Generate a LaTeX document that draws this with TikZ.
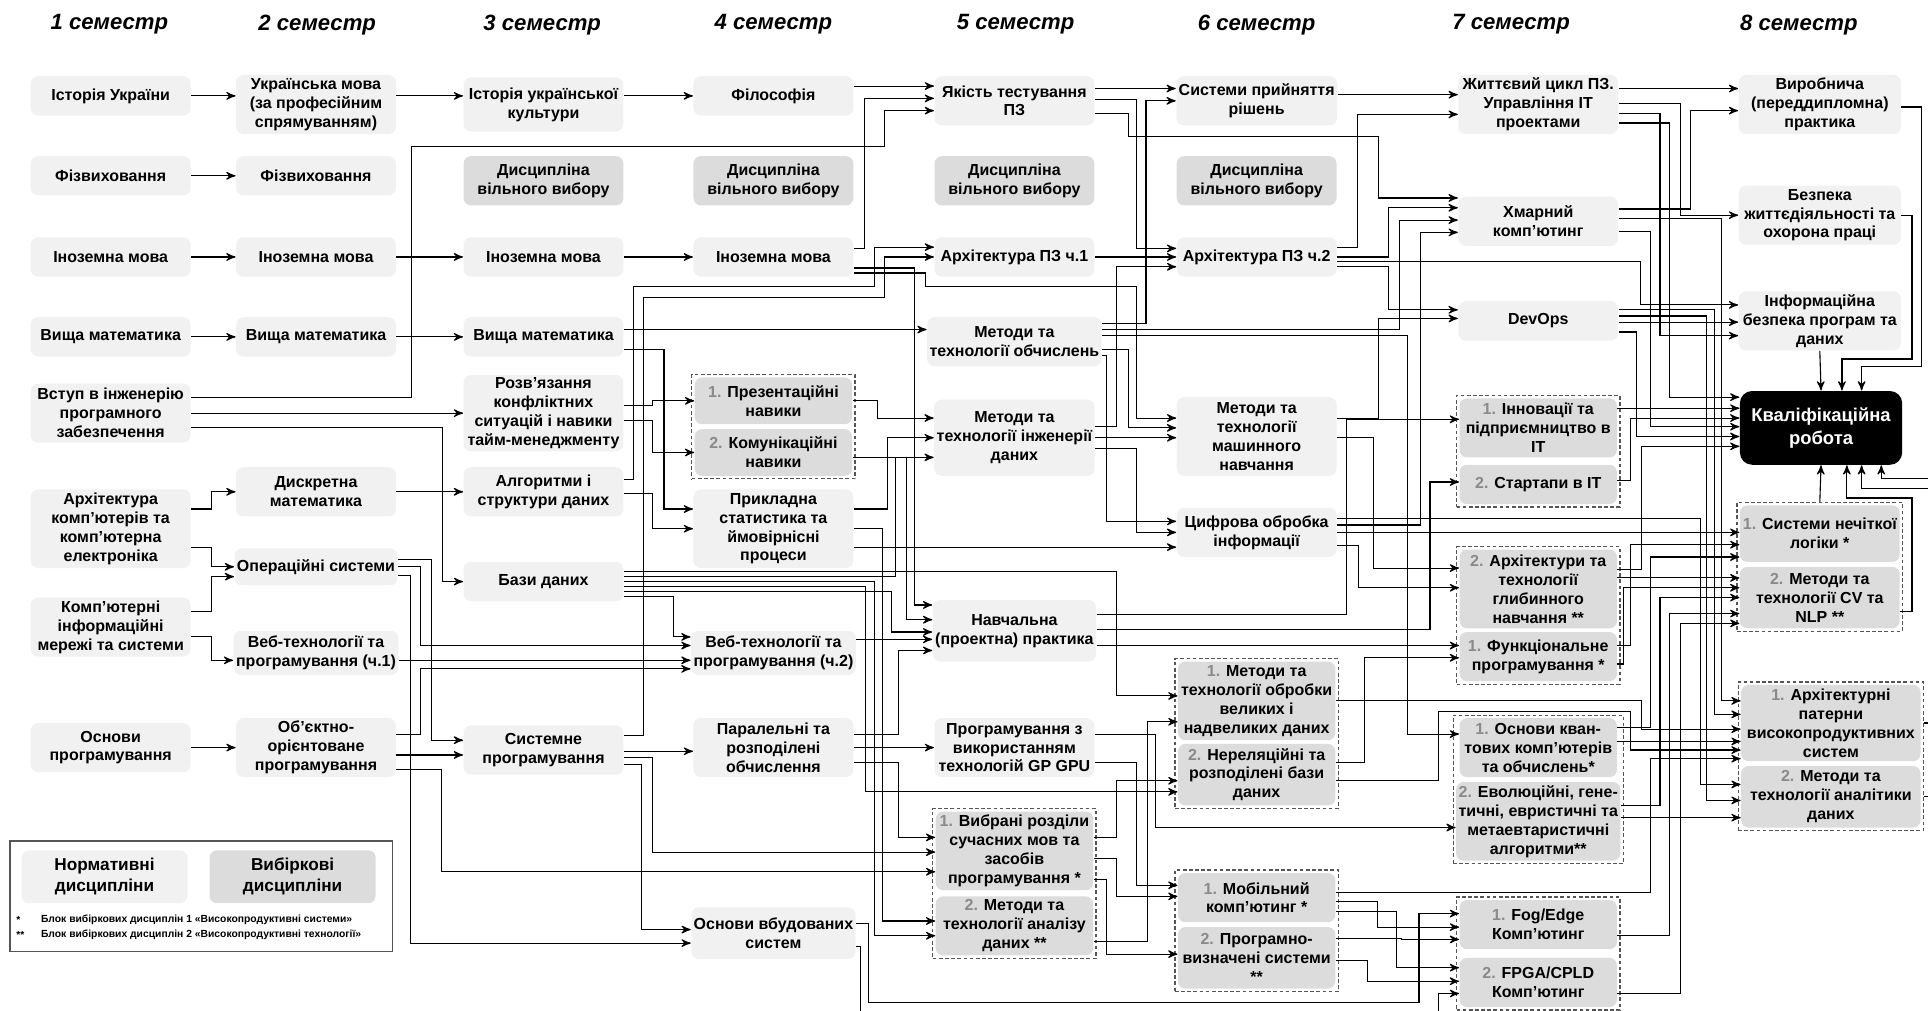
\documentclass[tikz,border=0pt]{standalone}
\usepackage{fontspec}
\setmainfont{Liberation Sans}
\usepackage{tikz}
\usetikzlibrary{arrows,calc,fit,backgrounds,positioning}
\definecolor{normfill}{HTML}{F1F1F1}
\definecolor{vybfill}{HTML}{DCDCDC}
\definecolor{numgray}{HTML}{8A8A8A}
\definecolor{grpline}{HTML}{555555}
\newcommand{\nm}[1]{\textcolor{numgray}{#1}}
\newcommand{\boxfont}{\fontsize{6.5}{7.7}\selectfont\bfseries}
\tikzstyle{norm}=[rectangle, fill=normfill, rounded corners=3pt, minimum width=65pt, minimum height=16pt, align=center, inner sep=1pt, font=\boxfont]
\tikzstyle{vyb}=[norm, fill=vybfill]
\tikzstyle{item}=[vyb, minimum width=64pt]
\tikzstyle{grp}=[rectangle, draw=grpline, dash pattern=on 1.5pt off 1pt, line width=0.5pt, inner sep=1pt]
\tikzstyle{sem}=[font=\fontsize{9}{10}\selectfont\bfseries\itshape]
\tikzstyle{link}=[->, >=stealth', line width=0.45pt]
% link: source, dy at source, x of the vertical run, target, dy at target
\newcommand{\lnk}[5]{%
  \path ($(#1.east)+(0,#2)$) coordinate (rs) ($(#4.west)+(0,#5)$) coordinate (rt);
  \coordinate (rc) at (#3,0);
  \draw[link] (rs) -- (rs -| rc) |- (rt);}
% link with two vertical runs: source, dy, x1, y between, x2, target, dy
\newcommand{\lnkB}[7]{%
  \path ($(#1.east)+(0,#2)$) coordinate (rs) ($(#6.west)+(0,#7)$) coordinate (rt);
  \coordinate (ra) at (#3,#4);
  \coordinate (rb) at (#5,#4);
  \draw[link] (rs) -| (ra) -- (rb) |- (rt);}

\begin{document}
\begin{tikzpicture}[x=0.5pt, y=-0.5pt]
\useasboundingbox (0,0) rectangle (1568,822);

% semester titles
\node[sem] (h1) at (89,20) {1 семестр};
\node[sem] (h2) at (258,20) {2 семестр};
\node[sem] (h3) at (441,20) {3 семестр};
\node[sem] (h4) at (629,20) {4 семестр};
\node[sem] (h5) at (826,20) {5 семестр};
\node[sem] (h6) at (1022,20) {6 семестр};
\node[sem] (h7) at (1229,20) {7 семестр};
\node[sem] (h8) at (1463,20) {8 семестр};

% semester 1
\node[norm] (ist) at (90,78) {Історія України};
\node[norm] (fiz1) at (90,143) {Фізвиховання};
\node[norm] (in1) at (90,209) {Іноземна мова};
\node[norm] (vm1) at (90,274) {Вища математика};
\node[norm, minimum height=24pt] (vstup) at (90,336) {Вступ в інженерію\\програмного\\забезпечення};
\node[norm, minimum height=32pt] (arkh) at (90,430) {Архітектура\\комп'ютерів та\\комп'ютерна\\електроніка};
\node[norm, minimum height=24pt] (mer) at (90,510) {Комп'ютерні\\інформаційні\\мережі та системи};
\node[norm, minimum height=20pt] (osn) at (90,608) {Основи\\програмування};

% semester 2
\node[norm, minimum height=24pt] (ukr) at (257,85) {Українська мова\\(за професійним\\спрямуванням)};
\node[norm] (fiz2) at (257,143) {Фізвиховання};
\node[norm] (in2) at (257,209) {Іноземна мова};
\node[norm] (vm2) at (257,274) {Вища математика};
\node[norm, minimum height=20pt] (dm) at (257,400) {Дискретна\\математика};
\node[norm, minimum height=15pt] (os) at (257,461) {Операційні системи};
\node[norm, minimum height=18pt] (web1) at (257,531) {Веб-технології та\\програмування (ч.1)};
\node[norm, minimum height=24pt] (oop) at (257,608) {Об’єктно-\\орієнтоване\\програмування};

% semester 3
\node[norm, minimum height=22pt] (kult) at (442,85) {Історія української\\культури};
\node[vyb, minimum height=20pt] (dvv3) at (442,147) {Дисципліна\\вільного вибору};
\node[norm] (in3) at (442,209) {Іноземна мова};
\node[norm] (vm3) at (442,274) {Вища математика};
\node[norm, minimum height=31pt] (konf) at (442,336) {Розв'язання\\конфліктних\\ситуацій і навики\\тайм-менеджменту};
\node[norm, minimum height=20pt] (alg) at (442,400) {Алгоритми і\\структури даних};
\node[norm] (bd) at (442,473) {Бази даних};
\node[norm, minimum height=20pt] (sp) at (442,610) {Системне\\програмування};

% semester 4
\node[norm] (fil) at (629,78) {Філософія};
\node[vyb, minimum height=20pt] (dvv4) at (629,147) {Дисципліна\\вільного вибору};
\node[norm] (in4) at (629,209) {Іноземна мова};
\node[item, minimum height=19pt] (prez) at (629,326) {\nm{1.} Презентаційні\\навики};
\node[item, minimum height=19pt] (kom) at (629,368) {\nm{2.} Комунікаційні\\навики};
\node[norm, minimum height=32pt] (stat) at (629,430) {Прикладна\\статистика та\\ймовірнісні\\процеси};
\node[norm, minimum height=18pt] (web2) at (629,531) {Веб-технології та\\програмування (ч.2)};
\node[norm, minimum height=24pt] (par) at (629,608) {Паралельні та\\розподілені\\обчислення};
\node[norm, minimum height=21pt] (vbud) at (629,759) {Основи вбудованих\\систем};

% semester 5
\node[norm, minimum height=20pt] (yak) at (825,82) {Якість тестування\\ПЗ};
\node[vyb, minimum height=20pt] (dvv5) at (825,147) {Дисципліна\\вільного вибору};
\node[norm] (apz1) at (825,209) {Архітектура ПЗ ч.1};
\node[norm, minimum height=20pt] (mto) at (825,278) {Методи та\\технології обчислень};
\node[norm, minimum height=31pt] (mti) at (825,356) {Методи та\\технології інженерії\\даних};
\node[norm, minimum height=25pt] (nav) at (825,513) {Навчальна\\(проектна) практика};
\node[norm, minimum height=24pt] (gpu) at (825,608) {Програмування з\\використанням\\технологій GP GPU};
\node[item, minimum height=32pt] (vyb) at (825,692) {\nm{1.} Вибрані розділи\\сучасних мов та\\засобів\\програмування *};
\node[item, minimum height=24pt] (mad) at (825,753) {\nm{2.} Методи та\\технології аналізу\\даних **};

% semester 6
\node[norm, minimum height=20pt] (spr) at (1022,82) {Системи прийняття\\рішень};
\node[vyb, minimum height=20pt] (dvv6) at (1022,147) {Дисципліна\\вільного вибору};
\node[norm] (apz2) at (1022,209) {Архітектура ПЗ ч.2};
\node[norm, minimum height=32pt] (mml) at (1022,355) {Методи та\\технології\\машинного\\навчання};
\node[norm, minimum height=20pt] (cos) at (1022,433) {Цифрова обробка\\інформації};
\node[item, minimum height=32pt] (bigd) at (1022,570) {\nm{1.} Методи та\\технології обробки\\великих і\\надвеликих даних};
\node[item, minimum height=25pt] (nrdb) at (1022,630) {\nm{2.} Нереляційні та\\розподілені бази\\даних};
\node[item, minimum height=20pt] (mob) at (1022,730) {\nm{1.} Мобільний\\комп'ютинг *};
\node[item, minimum height=25pt] (sdn) at (1022,779) {\nm{2.} Програмно-\\визначені системи\\**};

% semester 7
\node[norm, minimum height=24pt] (zhc) at (1251,85) {Життєвий цикл ПЗ.\\Управління ІТ\\проектами};
\node[norm, minimum height=20pt] (hmar) at (1251,180) {Хмарний\\комп'ютинг};
\node[norm] (devops) at (1251,261) {DevOps};
\node[item, minimum height=24pt] (inn) at (1251,348) {\nm{1.} Інновації та\\підприємництво в\\ІТ};
\node[item, minimum height=16pt] (start) at (1251,394) {\nm{2.} Стартапи в ІТ};
\node[item, minimum height=32pt] (dl) at (1251,479) {\nm{2.} Архітектури та\\технології\\глибинного\\навчання **};
\node[item, minimum height=20pt] (fp) at (1251,534) {\nm{1.} Функціональне\\програмування *};
\node[item, minimum height=24pt] (qc) at (1251,608) {\nm{1.} Основи кван-\\тових комп'ютерів\\та обчислень*};
\node[item, minimum height=32pt] (evo) at (1251,668) {\nm{2.} Еволюційні, гене-\\тичні, евристичні та\\метаевтаристичні\\алгоритми**};
\node[item, minimum height=20pt] (fog) at (1251,752) {\nm{1.} Fog/Edge\\Комп'ютинг};
\node[item, minimum height=20pt] (fpga) at (1251,799) {\nm{2.} FPGA/CPLD\\Комп'ютинг};

% semester 8
\node[norm, minimum width=66pt, minimum height=24pt] (vyr) at (1480,85) {Виробнича\\(переддипломна)\\практика};
\node[norm, minimum width=66pt, minimum height=24pt] (bzh) at (1480,175) {Безпека\\життєдіяльності та\\охорона праці};
\node[norm, minimum width=66pt, minimum height=24pt] (ib) at (1480,261) {Інформаційна\\безпека програм та\\даних};
\node[rectangle, fill=black, text=white, rounded corners=5pt, minimum width=66pt, minimum height=30pt, align=center, font=\fontsize{7.5}{9.4}\selectfont\bfseries] (kr) at (1481,348) {Кваліфікаційна\\робота};
\node[item, minimum width=65pt, minimum height=23pt] (fuzzy) at (1480,434) {\nm{1.} Системи нечіткої\\логіки *};
\node[item, minimum width=65pt, minimum height=25pt] (cv) at (1480,486) {\nm{2.} Методи та\\технології CV та\\NLP **};
\node[item, minimum width=73pt, minimum height=31pt] (pat) at (1489,588) {\nm{1.} Архітектурні\\патерни\\високопродуктивних\\систем};
\node[item, minimum width=73pt, minimum height=25pt] (anal) at (1489,648) {\nm{2.} Методи та\\технології аналітики\\даних};

% elective blocks
\begin{scope}[on background layer]
\node[grp, fit=(prez)(kom)] (g4) {};
\node[grp, fit=(vyb)(mad)] (g5) {};
\node[grp, fit=(bigd)(nrdb)] (g6a) {};
\node[grp, fit=(mob)(sdn)] (g6b) {};
\node[grp, fit=(inn)(start)] (g7a) {};
\node[grp, fit=(dl)(fp)] (g7b) {};
\node[grp, fit=(qc)(evo)] (g7c) {};
\node[grp, fit=(fog)(fpga)] (g7d) {};
\node[grp, fit=(fuzzy)(cv)] (g8a) {};
\node[grp, fit=(pat)(anal)] (g8b) {};
\end{scope}

% legend
\node[draw=grpline, line width=0.6pt, minimum width=155.5pt, minimum height=45pt] (lbox) at (163.5,729) {};
\node[norm, minimum width=67.5pt, minimum height=21.5pt, font=\fontsize{7}{8.4}\selectfont\bfseries] (lnorm) at (85,713) {Нормативні\\дисципліни};
\node[vyb, minimum width=67.5pt, minimum height=21.5pt, font=\fontsize{7}{8.4}\selectfont\bfseries] (lvyb) at (238,713) {Вибіркові\\дисципліни};
\node[anchor=west, inner sep=0pt, font=\fontsize{4.2}{5}\selectfont\bfseries] (n1s) at (13,748) {*};
\node[anchor=west, inner sep=0pt, font=\fontsize{4.2}{5}\selectfont\bfseries] (n1) at (33,748) {Блок вибіркових дисциплін 1 «Високопродуктивні системи»};
\node[anchor=west, inner sep=0pt, font=\fontsize{4.2}{5}\selectfont\bfseries] (n2s) at (13,760) {**};
\node[anchor=west, inner sep=0pt, font=\fontsize{4.2}{5}\selectfont\bfseries] (n2) at (33,760) {Блок вибіркових дисциплін 2 «Високопродуктивні технології»};

% 1 -> 2
\lnk{ist}{0}{173}{ukr}{-7}
\lnk{fiz1}{0}{173}{fiz2}{0}
\lnk{in1}{0}{173}{in2}{0}
\lnk{vm1}{0}{173}{vm2}{0}
\lnk{arkh}{-16}{172}{dm}{0}
\lnk{arkh}{15}{172}{os}{0}
\lnk{mer}{-13}{172}{os}{8}
\lnk{mer}{8}{172}{web1}{6}
\lnk{osn}{0}{173}{oop}{0}
\lnk{vstup}{0}{360}{konf}{0}
\lnk{vstup}{12}{360}{bd}{0}
\lnkB{vstup}{-13}{335}{119}{719}{yak}{8}

% 2 -> 3
\lnk{ukr}{-7}{350}{kult}{-7}
\lnk{in2}{0}{350}{in3}{0}
\lnk{vm2}{0}{350}{vm3}{0}
\lnk{dm}{0}{350}{alg}{0}
\lnk{os}{-6}{351}{sp}{-8}
\lnk{oop}{6}{350}{sp}{4}
\lnk{os}{0}{342}{web2}{-6}
\lnk{oop}{-11}{342}{web2}{13}
\lnk{web1}{6}{342}{web2}{6}
\lnk{os}{7}{334}{vbud}{8}
\lnk{oop}{18}{359}{vyb}{17}

% 3 -> 4
\lnk{kult}{-7}{535}{fil}{0}
\lnk{in3}{0}{535}{in4}{0}
\lnk{konf}{-6}{531}{prez}{0}
\lnk{konf}{6}{531}{kom}{0}
\lnk{vm3}{10}{540}{stat}{-16}
\lnk{alg}{1}{531}{stat}{0}
\lnk{bd}{12}{548}{web2}{-13}
\lnk{sp}{1}{535}{par}{3}
\lnk{sp}{12}{522}{vbud}{-3}
\lnk{sp}{6}{531}{vyb}{1}
\lnkB{alg}{-10}{515}{233}{711}{apz1}{-8}
\lnkB{sp}{-12}{523}{242}{719}{apz1}{0}
\lnk{vm3}{-6}{740}{mto}{-10}
\lnk{bd}{-8}{908}{bigd}{-4}
\lnk{bd}{-4}{728}{mti}{16}
\lnk{bd}{0}{711}{mad}{8}
\lnk{bd}{4}{704}{nrdb}{14}
\lnk{bd}{8}{725}{nav}{1}

% 4 -> 5
\lnk{fil}{-8}{725}{yak}{-12}
\lnk{in4}{-7}{703}{yak}{-2}
\lnk{prez}{0}{714}{mti}{-16}
\lnk{stat}{-16}{722}{mti}{0}
\lnk{stat}{0}{718}{mad}{-4}
\lnk{stat}{15}{725}{cos}{12}
\lnk{kom}{4}{737}{nav}{-9}
\lnk{in4}{9}{744}{nav}{-21}
\lnkB{in4}{13}{753}{233}{924}{mml}{-15}
\lnk{web2}{-11}{725}{nav}{7}
\lnk{par}{-11}{731}{nav}{16}
\lnk{par}{0}{725}{gpu}{0}
\lnk{par}{12}{731}{vyb}{-11}
\lnkB{vbud}{-8}{706}{815}{1154}{fog}{-9}
\lnkB{vbud}{11}{700}{835}{1170}{fpga}{9}

% 5 -> 6
\lnk{yak}{-10}{925}{spr}{-10}
\lnk{yak}{-1}{924}{apz2}{-7}
\lnkB{yak}{10}{918}{111}{1121}{hmar}{-19}
\lnk{mto}{-15}{932}{spr}{0}
\lnk{apz1}{0}{924}{apz2}{0}
\lnk{mti}{-9}{908}{apz2}{8}
\lnk{mto}{6}{918}{mml}{-7}
\lnk{mti}{0}{924}{mml}{1}
\lnk{mto}{11}{900}{cos}{-9}
\lnk{mti}{9}{924}{cos}{0}
\lnk{mad}{13}{933}{bigd}{17}
\lnk{vyb}{-11}{908}{nrdb}{5}
\lnk{vyb}{6}{908}{mob}{-1}
\lnk{gpu}{12}{924}{mob}{-10}
\lnk{vyb}{23}{900}{sdn}{-3}

% 5 -> 7
\lnk{mto}{-10}{1138}{hmar}{-1}
\lnk{mto}{-5}{1145}{qc}{-11}
\lnk{nav}{-13}{1095}{inn}{-7}
\lnk{nav}{-1}{1163}{start}{-2}
\lnk{nav}{12}{1100}{fp}{-9}
\lnk{gpu}{-11}{940}{evo}{5}

% 6 -> 7
\lnk{spr}{-5}{1140}{zhc}{-8}
\lnk{apz2}{-8}{1104}{zhc}{8}
\lnk{apz2}{0}{1129}{hmar}{-11}
\lnk{apz2}{8}{1129}{devops}{-9}
\lnk{mml}{-15}{1121}{devops}{-2}
\lnk{mml}{1}{1117}{dl}{-17}
\lnk{cos}{-6}{1155}{hmar}{9}
\lnk{cos}{11}{1105}{dl}{-1}
\lnk{nrdb}{-10}{1110}{fp}{1}
\lnk{mob}{3}{1120}{fog}{2}
\lnk{mob}{11}{1136}{fpga}{-12}
\lnk{sdn}{-16}{1140}{fog}{12}
\lnk{sdn}{2}{1112}{fpga}{-1}

% 6 -> 8
\lnk{apz2}{4}{1334}{ib}{-13}
\lnk{cos}{-11}{1383}{anal}{-10}
\lnk{cos}{0}{1390}{fuzzy}{-1}
\lnk{bigd}{0}{1335}{pat}{5}
\lnkB{nrdb}{5}{1170}{579}{1326}{pat}{22}
\lnk{mob}{-4}{1342}{pat}{29}

% 7 -> 8
\lnk{zhc}{-13}{1365}{vyr}{-13}
\lnk{zhc}{-1}{1367}{bzh}{0}
\lnk{zhc}{7}{1350}{ib}{12}
\lnk{zhc}{15}{1358}{kr}{-25}
\lnk{hmar}{-10}{1375}{vyr}{5}
\lnk{hmar}{-2}{1400}{pat}{-18}
\lnk{hmar}{8}{1342}{kr}{-1}
\lnk{devops}{-9}{1394}{pat}{-7}
\lnk{devops}{-4}{1388}{anal}{3}
\lnk{devops}{1}{1360}{ib}{1}
\lnk{devops}{9}{1331}{kr}{7}
\lnk{inn}{-16}{1360}{kr}{-16}
\lnk{start}{-3}{1326}{kr}{-8}
\lnk{dl}{-16}{1335}{kr}{15}
\lnk{dl}{-9}{1360}{cv}{-16}
\lnk{fp}{-9}{1326}{fuzzy}{9}
\lnk{fp}{6}{1320}{cv}{-8}
\lnk{qc}{-16}{1342}{fuzzy}{19}
\lnk{qc}{-5}{1360}{pat}{15}
\lnk{evo}{-13}{1350}{cv}{0}
\lnk{evo}{-3}{1360}{anal}{17}
\lnk{fog}{9}{1358}{cv}{13}
\lnk{fpga}{9}{1367}{cv}{21}

% into the qualification work
\draw[link] (ib.south) -- (kr.north);
\draw[link] (g8a.north) -- (kr.south);
\draw[link] ($(vyr.east)+(0,2)$) -| (1563,298) -| ($(kr.north)+(33,0)$);
\draw[link] (bzh.east) -| (1555,292) -| ($(kr.north)+(17,0)$);
\draw[link] ($(cv.east)+(0,11)$) -| (1555,405) -| ($(kr.south)+(21,0)$);
\draw[link] (g8b.east |- pat.east) -| (1575,397) -| ($(kr.south)+(33,0)$);
\draw[link] (g8b.east |- anal.east) -| (1583,389) -| ($(kr.south)+(49,0)$);
\end{tikzpicture}
\end{document}
